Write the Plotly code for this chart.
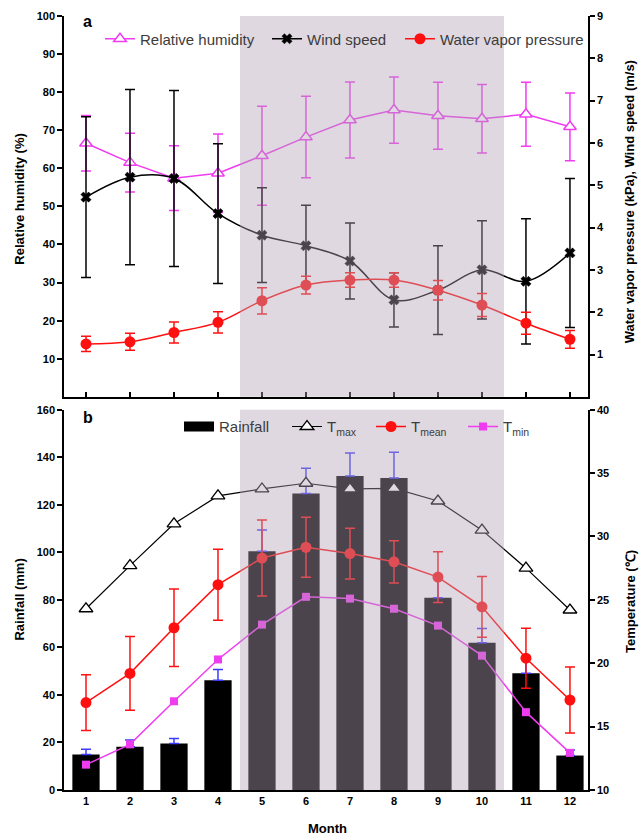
import plotly.graph_objects as go

# ---- data -------------------------------------------------------------
months = list(range(1, 13))
month_labels = [str(m) for m in months]

# panel a
rh_mean = [66.6, 61.5, 57.4, 58.7, 63.3, 68.2, 72.7, 75.3, 73.8, 73.0, 74.2, 70.9]
rh_sd = [7.3, 7.7, 8.5, 10.3, 13.0, 10.7, 10.0, 8.7, 8.8, 9.0, 8.4, 8.9]
wind_mean = [4.72, 5.19, 5.16, 4.33, 3.82, 3.57, 3.21, 2.29, 2.52, 3.00, 2.73, 3.40]
wind_sd = [1.90, 2.07, 2.08, 1.65, 1.12, 0.96, 0.90, 0.64, 1.05, 1.16, 1.48, 1.76]
vap_mean = [1.25, 1.30, 1.52, 1.76, 2.27, 2.64, 2.76, 2.76, 2.52, 2.17, 1.74, 1.36]
vap_sd = [0.18, 0.20, 0.25, 0.25, 0.31, 0.21, 0.17, 0.17, 0.23, 0.27, 0.26, 0.21]

# panel b
rain = [14.9, 18.2, 19.6, 46.2, 100.5, 124.8, 132.1, 131.3, 80.9, 62.0, 49.1, 14.5]
rain_sd = [2.2, 2.8, 2.1, 4.5, 8.9, 10.6, 9.7, 10.8, 8.6, 6.0, 6.3, 2.3]
t_max = [24.3, 27.7, 31.0, 33.2, 33.75, 34.2, 33.75, 33.8, 32.8, 30.5, 27.5, 24.2]
t_mean = [16.9, 19.2, 22.8, 26.2, 28.3, 29.15, 28.65, 28.0, 26.8, 24.45, 20.4, 17.1]
t_mean_sd = [2.2, 2.9, 3.05, 2.8, 3.0, 2.37, 2.0, 1.67, 2.0, 2.4, 2.37, 2.6]
t_min = [12.0, 13.6, 17.0, 20.3, 23.05, 25.24, 25.1, 24.3, 22.97, 20.6, 16.14, 12.93]

wet_season = (4.5, 10.5)

# ---- styling ----------------------------------------------------------
FONT = "Arial"
MAGENTA = "#f03cf0"
RED = "#ff1010"
BLUE = "#3b3bff"
SHADE = "rgba(178,162,180,0.42)"

fig = go.Figure()

# panel a traces
fig.add_trace(go.Scatter(
    x=months, y=rh_mean, name="Relative humidity", xaxis="x", yaxis="y",
    mode="lines+markers", line=dict(color=MAGENTA, width=1.5),
    marker=dict(symbol="triangle-up", size=11, color="white",
                line=dict(color=MAGENTA, width=1.5)),
    error_y=dict(type="data", array=rh_sd, color=MAGENTA, thickness=1.5, width=5),
    legend="legend"))
fig.add_trace(go.Scatter(
    x=months, y=wind_mean, name="Wind speed", xaxis="x", yaxis="y2",
    mode="lines+markers", line=dict(color="black", width=1.5, shape="spline"),
    marker=dict(symbol="x", size=9, color="black", line=dict(color="black", width=0.5)),
    error_y=dict(type="data", array=wind_sd, color="black", thickness=1.5, width=5),
    legend="legend2"))
fig.add_trace(go.Scatter(
    x=months, y=vap_mean, name="Water vapor pressure", xaxis="x", yaxis="y2",
    mode="lines+markers", line=dict(color=RED, width=1.5, shape="spline"),
    marker=dict(symbol="circle", size=11, color=RED),
    error_y=dict(type="data", array=vap_sd, color=RED, thickness=1.5, width=5),
    legend="legend3"))

# panel b traces
fig.add_trace(go.Bar(
    x=months, y=rain, name="Rainfall", xaxis="x2", yaxis="y3",
    width=0.62, marker=dict(color="black", line=dict(width=0)),
    error_y=dict(type="data", array=rain_sd, arrayminus=[0] * 12, symmetric=False,
                 color=BLUE, thickness=1.5, width=5),
    showlegend=False, legendgroup="rain"))
# legend key for the rainfall bars: a wide black block
fig.add_trace(go.Scatter(
    x=[None], y=[None], name="Rainfall", xaxis="x2", yaxis="y3",
    mode="lines", line=dict(color="black", width=12),
    legendgroup="rain", legend="legend4"))
fig.add_trace(go.Scatter(
    x=months, y=t_max, name="T<sub>max</sub>", xaxis="x2", yaxis="y4",
    mode="lines+markers", line=dict(color="black", width=1.2),
    marker=dict(symbol="triangle-up", size=12, color="white",
                line=dict(color="black", width=1.3)),
    legend="legend5"))
fig.add_trace(go.Scatter(
    x=months, y=t_mean, name="T<sub>mean</sub>", xaxis="x2", yaxis="y4",
    mode="lines+markers", line=dict(color=RED, width=1.5),
    marker=dict(symbol="circle", size=11, color=RED),
    error_y=dict(type="data", array=t_mean_sd, color=RED, thickness=1.5, width=5),
    legend="legend6"))
fig.add_trace(go.Scatter(
    x=months, y=t_min, name="T<sub>min</sub>", xaxis="x2", yaxis="y4",
    mode="lines+markers", line=dict(color=MAGENTA, width=1.5),
    marker=dict(symbol="square", size=8, color=MAGENTA),
    legend="legend7"))

# ---- axes -------------------------------------------------------------
tick_font = dict(family=FONT, size=11, color="black", weight="bold")
xcommon = dict(range=[0.5, 12.41], tickmode="array", tickvals=months,
               showline=True, linecolor="black", linewidth=1.5,
               showgrid=False, zeroline=False, tickfont=tick_font,
               tickcolor="black", ticklen=5, tickwidth=1.5)
ycommon = dict(showline=True, linecolor="black", linewidth=1.5, showgrid=False,
               zeroline=False, ticks="outside", ticklen=5, tickwidth=1.5,
               tickcolor="black", tickfont=tick_font)

top_dom = [0.508, 1.0]
bot_dom = [0.0, 0.4913]

fig.update_layout(
    xaxis=dict(**xcommon, domain=[0, 1], anchor="y", ticks="inside",
               showticklabels=False),
    xaxis2=dict(**xcommon, domain=[0, 1], anchor="y3", ticks="",
                ticktext=month_labels),
    yaxis=dict(**ycommon, domain=top_dom, range=[0, 100],
               tickvals=list(range(10, 101, 10)), anchor="x"),
    yaxis2=dict(**ycommon, domain=top_dom, range=[0, 9], overlaying="y",
                side="right", tickvals=list(range(1, 10)), anchor="x"),
    yaxis3=dict(**ycommon, domain=bot_dom, range=[0, 160],
                tickvals=list(range(0, 161, 20)), anchor="x2"),
    yaxis4=dict(**ycommon, domain=bot_dom, range=[10, 40], overlaying="y3",
                side="right", tickvals=list(range(10, 41, 5)), anchor="x2"),
)

# wet-season shading laid over both panels
for xr, yr in (("x", "y domain"), ("x2", "y3 domain")):
    fig.add_shape(type="rect", xref=xr, yref=yr, x0=wet_season[0], x1=wet_season[1],
                  y0=0, y1=1, fillcolor=SHADE, line=dict(width=0), layer="above")

# ---- text -------------------------------------------------------------
title_font = dict(family=FONT, size=13, color="black", weight="bold")
ann = [
    dict(text="a", x=0.0458, y=0.9923, font=dict(family=FONT, size=16, weight="bold", color="black")),
    dict(text="b", x=0.0458, y=0.481, font=dict(family=FONT, size=16, weight="bold", color="black")),
    dict(text="Relative humidity (%)", x=-0.084, y=0.764, textangle=-90, font=title_font),
    dict(text="Water vapor pressure (kPa), Wind speed (m/s)", x=1.080, y=0.7604,
         textangle=-90, font=title_font),
    dict(text="Rainfall (mm)", x=-0.084, y=0.246, textangle=-90, font=title_font),
    dict(text="Temperature (\u2103)", x=1.080, y=0.244, textangle=-90, font=title_font),
    dict(text="Month", x=0.502, y=-0.0497, font=title_font),
]
for a in ann:
    fig.add_annotation(xref="paper", yref="paper", showarrow=False,
                       xanchor="center", yanchor="middle", **a)

# one legend box per entry so each key sits at its own spot
legend_font = dict(family=FONT, size=15, color="#3c3c3c")
top_row_y = 0.9703
bot_row_y = 0.4693
legend_spots = {
    "legend": (0.0687, top_row_y),
    "legend2": (0.3874, top_row_y),
    "legend3": (0.6412, top_row_y),
    "legend4": (0.2195, bot_row_y),
    "legend5": (0.4256, bot_row_y),
    "legend6": (0.5859, bot_row_y),
    "legend7": (0.7615, bot_row_y),
}
legend_layout = {
    key: dict(orientation="h", x=lx, y=ly, xanchor="left", yanchor="middle",
              bgcolor="rgba(0,0,0,0)", font=legend_font)
    for key, (lx, ly) in legend_spots.items()
}

fig.update_layout(
    width=639, height=838,
    margin=dict(l=64, r=51, t=16, b=47.5, autoexpand=False),
    paper_bgcolor="white", plot_bgcolor="white",
    font=dict(family=FONT),
    showlegend=True,
    **legend_layout,
)

fig.write_html("out.html")
